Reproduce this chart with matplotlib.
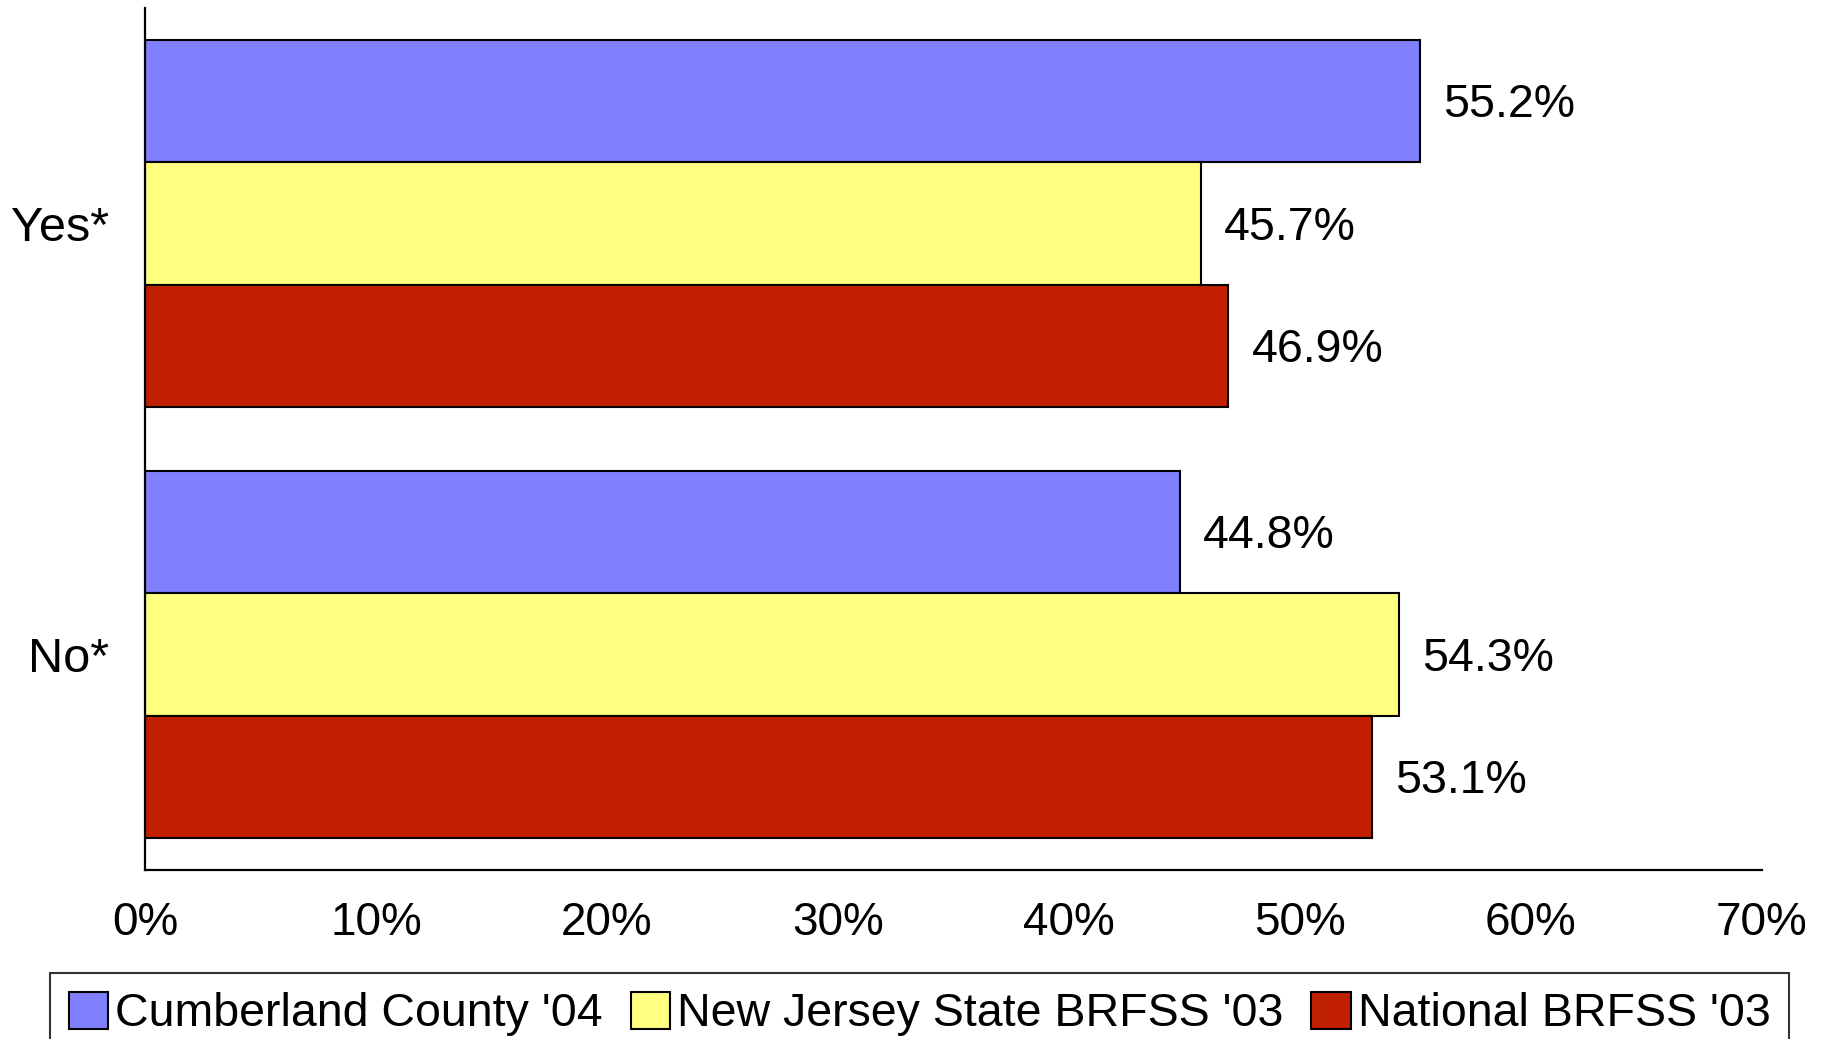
import numpy as np
from matplotlib import pyplot as plt
from matplotlib.patches import Patch

plt.rcParams["font.family"] = ["Liberation Sans", "DejaVu Sans"]

# data
categories = ["Yes*", "No*"]
series = ["Cumberland County '04", "New Jersey State BRFSS '03", "National BRFSS '03"]
values = [
    [55.2, 44.8],  # Cumberland
    [45.7, 54.3],  # New Jersey
    [46.9, 53.1],  # National
]
colors = ["#8080FF", "#FFFF80", "#C02000"]
x_ticks = [0, 10, 20, 30, 40, 50, 60, 70]

fig = plt.figure(figsize=(18.3, 10.39), dpi=100)
ax = fig.add_axes([0.0792, 0.1627, 0.8836, 0.8296])

h = 0.284
y_pos = np.arange(len(categories))
for i, (vals, col) in enumerate(zip(values, colors)):
    yy = y_pos + (i - 1) * h
    ax.barh(yy, vals, height=h, color=col, edgecolor="black", linewidth=1.5)
    for y, v in zip(yy, vals):
        ax.text(v + 1.0, y + 0.01, f"{v:.1f}%", va="center", ha="left", fontsize=33.5)

ax.set_ylim(1.5, -0.5)
ax.set_xlim(0, 70)
ax.set_yticks(y_pos)
ax.set_yticklabels(categories, fontsize=35)
ax.set_xticks(x_ticks)
ax.set_xticklabels([f"{t}%" for t in x_ticks], fontsize=33)
ax.tick_params(axis="both", length=0)
ax.tick_params(axis="x", pad=22)
ax.tick_params(axis="y", pad=26)

for s in ["top", "right"]:
    ax.spines[s].set_visible(False)
for s in ["left", "bottom"]:
    ax.spines[s].set_linewidth(1.6)

handles = [Patch(facecolor=c, edgecolor="black", linewidth=1.5) for c in colors]
leg = fig.legend(handles, series, loc="upper left", bbox_to_anchor=(0.0273, 0.0635),
                 ncol=3, fontsize=33.5, frameon=True, fancybox=False,
                 handlelength=0.85, handleheight=0.85, handletextpad=0.15,
                 columnspacing=0.6, borderpad=0.4, borderaxespad=0)
leg.get_frame().set_edgecolor("black")
leg.get_frame().set_linewidth(1.5)

fig.savefig("out.png", dpi=100)
